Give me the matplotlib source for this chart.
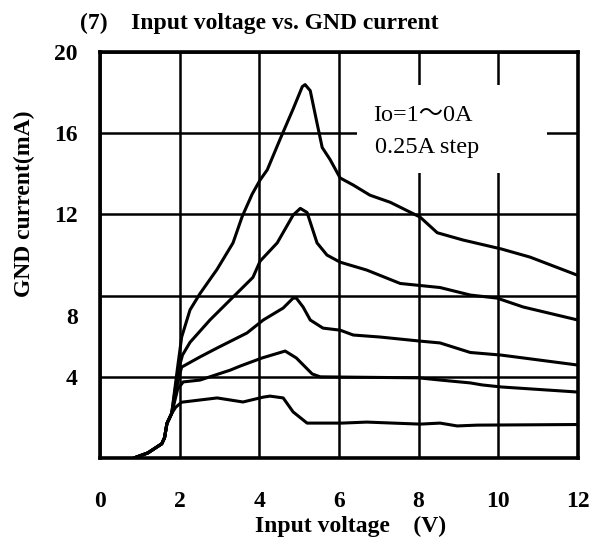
import matplotlib
matplotlib.use("Agg")
import matplotlib.pyplot as plt
import matplotlib.transforms as mtransforms
from matplotlib.patches import Rectangle

plt.rcParams['font.family'] = ['Liberation Serif', 'Noto Sans CJK JP']

# shared start of all curves (V, mA)
v_start = [0.85, 1.2, 1.55, 1.62, 1.68, 1.8]
i_start = [0.0, 0.25, 0.7, 1.0, 1.7, 2.2]

# Io = 1A
v_io100 = [1.95, 2.05, 2.26, 2.51, 2.94, 3.34, 3.57, 3.82, 4.02, 4.2, 4.52, 4.85, 5.08, 5.15,
           5.28, 5.45, 5.58, 5.78, 6.03, 6.36, 6.78, 7.29, 8.04, 8.47, 9.12, 10.08, 10.8, 12.0]
i_io100 = [4.5, 5.96, 7.3, 8.1, 9.3, 10.6, 11.9, 13.0, 13.7, 14.2, 15.7, 17.2, 18.3, 18.4,
           18.1, 16.5, 15.3, 14.7, 13.8, 13.45, 12.95, 12.6, 11.87, 11.1, 10.74, 10.3, 9.9, 9.0]

# Io = 0.75A
v_io075 = [1.95, 2.07, 2.26, 2.76, 3.34, 3.84, 4.02, 4.45, 4.85, 5.03, 5.2, 5.45, 5.7, 6.03,
           6.7, 7.54, 8.04, 8.54, 9.3, 9.97, 10.63, 12.0]
i_io075 = [4.2, 5.07, 5.7, 6.8, 7.93, 8.9, 9.7, 10.6, 11.97, 12.3, 12.1, 10.6, 10.0, 9.65,
           9.26, 8.6, 8.5, 8.4, 8.03, 7.88, 7.44, 6.8]

# Io = 0.5A
v_io050 = [1.97, 2.05, 2.51, 2.94, 3.69, 4.1, 4.6, 4.85, 4.93, 5.1, 5.28, 5.6, 6.03, 6.36,
           7.04, 8.04, 8.54, 9.3, 10.08, 10.63, 12.0]
i_io050 = [3.9, 4.48, 4.98, 5.42, 6.16, 6.8, 7.39, 7.88, 7.88, 7.44, 6.8, 6.4, 6.3, 6.06,
           5.96, 5.76, 5.67, 5.2, 5.07, 4.93, 4.58]

# Io = 0.25A
v_io025 = [1.95, 2.09, 2.51, 3.27, 3.52, 4.07, 4.65, 4.93, 5.33, 5.53, 6.0, 8.0, 8.55, 9.3,
           9.6, 10.08, 12.0]
i_io025 = [3.4, 3.75, 3.84, 4.33, 4.53, 4.93, 5.27, 4.93, 4.14, 4.0, 3.99, 3.95, 3.84, 3.7,
           3.6, 3.5, 3.25]

# Io = 0A
v_io000 = [1.9, 1.96, 2.05, 2.94, 3.59, 4.1, 4.27, 4.6, 4.85, 5.2, 6.08, 6.7, 7.36, 8.04,
           8.54, 8.97, 9.47, 12.0]
i_io000 = [2.5, 2.6, 2.75, 2.96, 2.76, 3.0, 3.05, 2.96, 2.27, 1.72, 1.72, 1.77, 1.72, 1.67,
           1.72, 1.58, 1.62, 1.65]

x_ticks = [0, 2, 4, 6, 8, 10, 12]
y_ticks = [4, 8, 12, 16, 20]

fig = plt.figure(figsize=(5.92, 5.47), dpi=100)
ax = fig.add_axes([0.169, 0.1627, 0.807, 0.742])

for vv, ii in [(v_io100, i_io100), (v_io075, i_io075), (v_io050, i_io050),
               (v_io025, i_io025), (v_io000, i_io000)]:
    ax.plot(v_start + vv, i_start + ii, color='black', lw=2.2, zorder=4,
            solid_joinstyle='round', solid_capstyle='round')

ax.set_xlim(0, 12)
ax.set_ylim(0, 20)
ax.set_xticks(x_ticks)
ax.set_yticks(y_ticks)
ax.set_xticklabels([str(t) for t in x_ticks], fontsize=17, fontweight='bold')
ax.set_yticklabels([str(t) for t in y_ticks], fontsize=17, fontweight='bold')
ax.tick_params(length=0)
ax.tick_params(axis='x', pad=24)
ax.tick_params(axis='y', pad=16)
ax.grid(True, color='black', lw=1.8, zorder=1)
for s in ax.spines.values():
    s.set_linewidth(2.6)

# the "8" label sits lower in the original
lab8 = ax.get_yticklabels()[1]
lab8.set_transform(lab8.get_transform() + mtransforms.ScaledTranslation(0, -0.2, fig.dpi_scale_trans))

# white patch behind the condition text
ax.add_patch(Rectangle((0.538, 0.702), 0.397, 0.217, transform=ax.transAxes,
                       facecolor='white', edgecolor='none', zorder=2))
ax.text(0.571, 0.845, 'Io=1～0A', transform=ax.transAxes, fontsize=17.5,
        ha='left', va='center', zorder=3)
ax.text(0.575, 0.764, '0.25A step', transform=ax.transAxes, fontsize=17.5,
        ha='left', va='center', zorder=3)

ax.set_xlabel('Input voltage    (V)', fontsize=17, fontweight='bold')
ax.xaxis.set_label_coords(0.525, -0.143)
ax.set_ylabel('GND current(mA)', fontsize=17, fontweight='bold')
ax.yaxis.set_label_coords(-0.136, 0.626)

fig.text(0.135, 0.957, '(7)    Input voltage vs. GND current', fontsize=17,
         fontweight='bold', ha='left', va='center')

fig.savefig('out.png', dpi=100)
